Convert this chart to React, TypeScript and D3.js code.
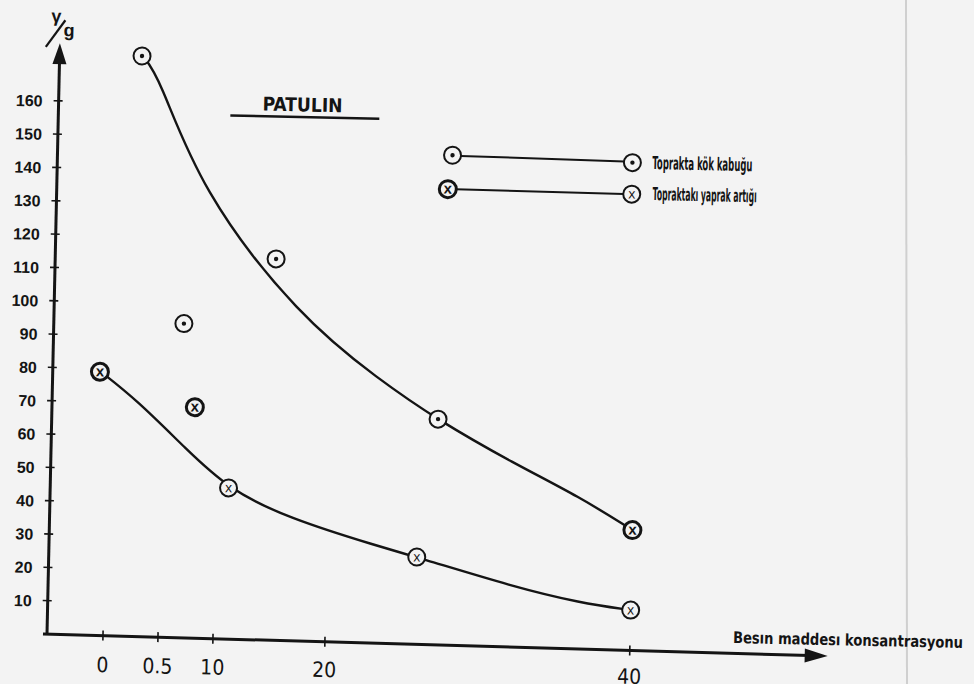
import React from "react";
import * as d3 from "d3";

// ---- data ----
const xTickValues = [0, 0.5, 10, 20, 40];
const xTickLabels = ["0", "0.5", "10", "20", "40"];
const yTickValues = [10, 20, 30, 40, 50, 60, 70, 80, 90, 100, 110, 120, 130, 140, 150, 160];

// Toprakta kök kabuğu (⊙)
const kokX = [0.24, 3.8, 14.9, 27.1, 40];
const kokY = [174, 94, 114, 67, 35];
// Topraktakı yaprak artığı (⊗)
const yaprakX = [-0.08, 6.0, 11.1, 25.9, 40];
const yaprakY = [79, 69, 45, 25.5, 11];

// hand-drawn trend curves (knots)
const kokCurveX = [0.24, 0.4, 6.08, 17.1, 23.2, 27.1, 32.1, 36.5, 40];
const kokCurveY = [174.3, 168, 134.2, 96.7, 78.4, 66.7, 54.3, 44.6, 35];
const yaprakCurveX = [-0.08, 0.26, 4.82, 11.1, 16.4, 23.5, 25.9, 32.3, 36.7, 40];
const yaprakCurveY = [79.2, 70.8, 56.1, 44.7, 36.4, 28.3, 25.5, 17.2, 12.8, 11];

const titleText = "PATULIN";
const legendLabels = ["Toprakta kök kabuğu", "Topraktakı yaprak artığı"];
const xAxisTitle = "Besın maddesı konsantrasyonu";

const W = 974;
const H = 684;
const OX = 47;
const OY = 634;
const BG = "#f3f3f3";
const INK = "#141414";
const NARROW = "'Liberation Sans Narrow', 'DejaVu Sans Condensed', 'Arial Narrow', sans-serif";
const SANS = "'Liberation Sans', Arial, sans-serif";

const xScale = d3.scaleLinear().domain([0, 0.5, 10, 20, 40]).range([103, 158, 213, 325, 630]);
const yScale = d3.scaleLinear().domain([0, 160]).range([OY, OY - 533.3]);

const X_TIP = 828;
const xAxisY = (x: number) => OY + ((x - OX) * 5) / (X_TIP - OX);

function Marker({ x, y, kind, bold }: { x: number; y: number; kind: "dot" | "x"; bold?: boolean }) {
  return (
    <g>
      <circle cx={x} cy={y} r={8.5} fill={BG} stroke={INK} strokeWidth={bold ? 3 : 2} />
      {kind === "dot" ? (
        <circle cx={x} cy={y} r={2.2} fill={INK} />
      ) : (
        <text
          x={x}
          y={y + 4.5}
          textAnchor="middle"
          fontFamily={SANS}
          fontWeight={bold ? 900 : 400}
          fontSize={bold ? 15 : 14}
          fill={INK}
        >
          x
        </text>
      )}
    </g>
  );
}

export default function App() {
  const line = d3
    .line<[number, number]>()
    .x((d) => xScale(d[0]))
    .y((d) => yScale(d[1]))
    .curve(d3.curveBasis);

  const kokCurve = kokCurveX.map((x, i) => [x, kokCurveY[i]] as [number, number]);
  const yaprakCurve = yaprakCurveX.map((x, i) => [x, yaprakCurveY[i]] as [number, number]);

  const L2 = 180.5;

  return (
    <svg
      width={W}
      height={H}
      viewBox={`0 0 ${W} ${H}`}
      style={{ position: "absolute", left: 0, top: 0, display: "block" }}
    >
      <rect x={0} y={0} width={W} height={H} fill={BG} />
      <line x1={906} y1={0} x2={907} y2={H} stroke="#cfcfcf" strokeWidth={2} />
      <g transform={`rotate(1.25, ${OX}, ${OY})`}>
        {/* y axis */}
        <line x1={OX} y1={OY} x2={OX} y2={60} stroke={INK} strokeWidth={3} />
        <path d={`M${OX},43 L${OX - 7},64 L${OX + 7},64 Z`} fill={INK} />
        {yTickValues.map((v) => (
          <g key={v}>
            <line x1={OX - 5} x2={OX + 4} y1={yScale(v)} y2={yScale(v)} stroke={INK} strokeWidth={1.6} />
            <text
              x={OX - 16}
              y={yScale(v) + 6}
              textAnchor="end"
              fontFamily={SANS}
              fontWeight={700}
              fontSize={16}
              fill={INK}
            >
              {v}
            </text>
          </g>
        ))}
        {/* y axis unit γ/g */}
        <text x={43} y={22} textAnchor="middle" fontFamily={SANS} fontWeight={700} fontSize={18} fill={INK}>
          γ
        </text>
        <line x1={33} y1={47} x2={52} y2={20} stroke={INK} strokeWidth={2.2} />
        <text x={56} y={36} textAnchor="middle" fontFamily={SANS} fontWeight={700} fontSize={18} fill={INK}>
          g
        </text>

        {/* x axis */}
        <line x1={OX - 4} y1={OY} x2={X_TIP - 18} y2={xAxisY(X_TIP - 18)} stroke={INK} strokeWidth={3} />
        <path
          d={`M${X_TIP},${xAxisY(X_TIP)} L${X_TIP - 23},${xAxisY(X_TIP - 23) - 7} L${X_TIP - 23},${xAxisY(X_TIP - 23) + 7} Z`}
          fill={INK}
        />
        {xTickValues.map((v, i) => (
          <g key={v}>
            <line
              x1={xScale(v)}
              x2={xScale(v)}
              y1={xAxisY(xScale(v)) - 5}
              y2={xAxisY(xScale(v)) + 5}
              stroke={INK}
              strokeWidth={1.6}
            />
            <text
              x={xScale(v)}
              y={671}
              textAnchor="middle"
              fontFamily={NARROW}
              fontSize={21}
              fill={INK}
            >
              {xTickLabels[i]}
            </text>
          </g>
        ))}
        <text
          x={733}
          y={628}
          fontFamily={NARROW}
          fontWeight={700}
          fontSize={16}
          textLength={230}
          lengthAdjust="spacingAndGlyphs"
          fill={INK}
        >
          {xAxisTitle}
        </text>

        {/* title */}
        <text
          x={291}
          y={106}
          textAnchor="middle"
          fontFamily={NARROW}
          fontWeight={700}
          fontSize={19}
          textLength={80}
          lengthAdjust="spacingAndGlyphs"
          fill={INK}
        >
          {titleText}
        </text>
        <line x1={219} x2={368} y1={111.5} y2={111.5} stroke={INK} strokeWidth={2.5} />

        {/* legend */}
        <line x1={450} x2={614} y1={147} y2={149} stroke={INK} strokeWidth={2} />
        <Marker x={442} y={146.5} kind="dot" />
        <Marker x={622} y={150} kind="dot" />
        <text
          x={642}
          y={156}
          fontFamily={NARROW}
          fontWeight={700}
          fontSize={18}
          textLength={100}
          lengthAdjust="spacingAndGlyphs"
          fill={INK}
        >
          {legendLabels[0]}
        </text>
        <line x1={446} x2={614} y1={L2} y2={L2 + 1} stroke={INK} strokeWidth={2} />
        <Marker x={438} y={L2} kind="x" bold />
        <Marker x={622} y={L2 + 1} kind="x" />
        <text
          x={643}
          y={L2 + 6.5}
          fontFamily={NARROW}
          fontWeight={700}
          fontSize={18}
          textLength={104}
          lengthAdjust="spacingAndGlyphs"
          fill={INK}
        >
          {legendLabels[1]}
        </text>

        {/* trend curves */}
        <path d={line(kokCurve) || ""} fill="none" stroke={INK} strokeWidth={2.4} />
        <path d={line(yaprakCurve) || ""} fill="none" stroke={INK} strokeWidth={2.4} />

        {/* points */}
        {kokX.map((x, i) => (
          <Marker
            key={"k" + i}
            x={xScale(x)}
            y={yScale(kokY[i])}
            kind={i === kokX.length - 1 ? "x" : "dot"}
            bold={i === kokX.length - 1}
          />
        ))}
        {yaprakX.map((x, i) => (
          <Marker key={"y" + i} x={xScale(x)} y={yScale(yaprakY[i])} kind="x" bold={i < 2} />
        ))}
      </g>
    </svg>
  );
}
